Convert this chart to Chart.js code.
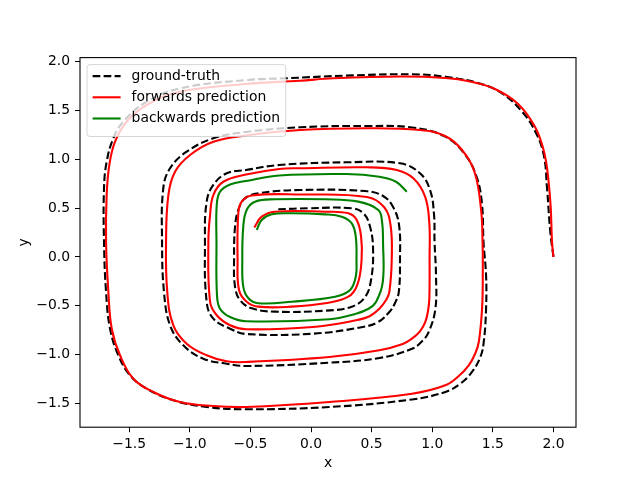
<!DOCTYPE html>
<html>
<head>
<meta charset="utf-8">
<script src="https://cdn.jsdelivr.net/npm/chart.js@4.4.0/dist/chart.umd.min.js"></script>
<style>
  html, body { margin: 0; padding: 0; background: #fff; }
  canvas { display: block; }
</style>
</head>
<body>
<canvas id="spiral" width="640" height="480"></canvas>
<script>
// traced trajectories, [x, y] in data units
const groundTruth = [
  [2.000, 0.000], [1.974, 0.255], [1.947, 0.703], [1.920, 1.044], [1.851, 1.283],
  [1.741, 1.488], [1.576, 1.676], [1.384, 1.779], [1.108, 1.846], [0.833, 1.871],
  [0.289, 1.857], [-0.206, 1.830], [-0.536, 1.812], [-1.081, 1.727], [-1.356, 1.590],
  [-1.549, 1.385], [-1.631, 1.215], [-1.686, 0.975], [-1.708, 0.703], [-1.708, 0.156],
  [-1.691, -0.360], [-1.658, -0.736], [-1.590, -1.008], [-1.493, -1.213], [-1.356, -1.350],
  [-1.136, -1.469], [-0.861, -1.538], [-0.536, -1.561], [0.151, -1.538], [0.833, -1.461],
  [1.108, -1.384], [1.232, -1.299], [1.328, -1.179], [1.397, -1.026], [1.425, -0.872],
  [1.444, -0.531], [1.444, -0.189],
  [1.423, 0.153], [1.411, 0.532], [1.370, 0.805], [1.273, 1.044], [1.108, 1.232],
  [0.833, 1.326], [0.460, 1.341], [-0.091, 1.328], [-0.536, 1.280], [-0.806, 1.215],
  [-1.026, 1.078], [-1.163, 0.908], [-1.219, 0.703], [-1.229, 0.156], [-1.213, -0.360],
  [-1.163, -0.701], [-1.054, -0.906], [-0.889, -1.043], [-0.696, -1.094], [-0.536, -1.118],
  [0.151, -1.084], [0.564, -1.036], [0.833, -0.941], [0.916, -0.864], [0.971, -0.769],
  [1.026, -0.531],
  [1.031, -0.189], [1.019, 0.153], [1.015, 0.429], [0.982, 0.685], [0.899, 0.857],
  [0.734, 0.959], [0.289, 0.969], [-0.262, 0.942], [-0.536, 0.890], [-0.696, 0.857],
  [-0.806, 0.737], [-0.861, 0.566], [-0.875, 0.156], [-0.861, -0.462], [-0.806, -0.633],
  [-0.668, -0.736], [-0.536, -0.790], [0.014, -0.787], [0.427, -0.718], [0.553, -0.667],
  [0.646, -0.565], [0.693, -0.472],
  [0.724, -0.360], [0.734, -0.018], [0.726, 0.327], [0.677, 0.511], [0.594, 0.624],
  [0.446, 0.675], [-0.091, 0.685], [-0.435, 0.652], [-0.545, 0.600], [-0.600, 0.481],
  [-0.627, 0.309], [-0.635, -0.032], [-0.627, -0.305], [-0.586, -0.442], [-0.489, -0.527],
  [-0.297, -0.561], [0.116, -0.551], [0.336, -0.510], [0.446, -0.411], [0.495, -0.237],
  [0.512, 0.071], [0.487, 0.309], [0.432, 0.447], [0.336, 0.498], [-0.022, 0.498],
  [-0.270, 0.488]
];

const forwardPred = [
  [2.000, 0.000], [1.988, 0.156], [1.976, 0.532], [1.947, 0.911], [1.914, 1.116],
  [1.844, 1.341], [1.708, 1.567], [1.518, 1.720], [1.312, 1.797], [1.108, 1.833],
  [0.734, 1.848], [0.184, 1.830], [-0.091, 1.805], [-0.536, 1.772], [-1.081, 1.693],
  [-1.356, 1.556], [-1.521, 1.385], [-1.617, 1.180], [-1.664, 0.942], [-1.686, 0.634],
  [-1.691, 0.156], [-1.672, -0.360], [-1.644, -0.736], [-1.576, -1.008], [-1.466, -1.248],
  [-1.301, -1.384], [-1.081, -1.487], [-0.806, -1.528], [-0.536, -1.538], [0.151, -1.487],
  [0.833, -1.402], [1.108, -1.316], [1.221, -1.218], [1.301, -1.111], [1.353, -0.995],
  [1.384, -0.872], [1.411, -0.531],
  [1.417, -0.189], [1.415, 0.153], [1.403, 0.481], [1.349, 0.870], [1.246, 1.095],
  [1.106, 1.239], [0.899, 1.300], [0.460, 1.318], [-0.091, 1.300], [-0.536, 1.244],
  [-0.806, 1.180], [-0.998, 1.044], [-1.122, 0.873], [-1.177, 0.634], [-1.196, 0.156],
  [-1.186, -0.360], [-1.136, -0.701], [-1.026, -0.889], [-0.861, -1.008], [-0.696, -1.070],
  [-0.536, -1.077], [0.151, -1.026], [0.564, -0.957], [0.757, -0.892], [0.833, -0.838],
  [0.899, -0.764], [0.943, -0.667], [0.965, -0.554], [0.976, -0.428], [0.978, -0.018],
  [0.976, 0.344], [0.941, 0.617],
  [0.844, 0.805], [0.707, 0.890], [0.460, 0.918], [-0.091, 0.908], [-0.262, 0.901],
  [-0.536, 0.844], [-0.724, 0.770], [-0.806, 0.634], [-0.833, 0.429], [-0.847, 0.156],
  [-0.833, -0.462], [-0.778, -0.598], [-0.668, -0.701], [-0.536, -0.742], [0.014, -0.718],
  [0.371, -0.650], [0.487, -0.606], [0.564, -0.531], [0.619, -0.442], [0.646, -0.360],
  [0.666, -0.018], [0.656, 0.327],
  [0.602, 0.511], [0.462, 0.614], [-0.091, 0.639], [-0.489, 0.629], [-0.572, 0.566],
  [-0.600, 0.447], [-0.606, -0.032], [-0.594, -0.339], [-0.531, -0.459], [-0.435, -0.510],
  [-0.159, -0.510], [0.116, -0.475], [0.308, -0.408], [0.384, -0.278], [0.417, -0.032],
  [0.413, 0.207], [0.377, 0.378], [0.308, 0.447], [0.116, 0.463], [-0.297, 0.463],
  [-0.407, 0.412], [-0.468, 0.301]
];

const backwardPred = [
  [0.790, 0.668], [0.701, 0.770], [0.564, 0.822], [0.289, 0.849], [-0.262, 0.834],
  [-0.536, 0.778], [-0.668, 0.742], [-0.751, 0.668], [-0.778, 0.532], [-0.780, 0.156],
  [-0.776, -0.390], [-0.751, -0.531], [-0.668, -0.616], [-0.536, -0.660], [0.151, -0.639],
  [0.371, -0.582], [0.470, -0.534], [0.536, -0.462], [0.592, -0.257], [0.594, 0.153],
  [0.586, 0.358],
  [0.555, 0.481], [0.390, 0.566], [0.116, 0.590], [-0.297, 0.590], [-0.462, 0.566],
  [-0.531, 0.481], [-0.559, 0.309], [-0.567, -0.032], [-0.559, -0.305], [-0.517, -0.424],
  [-0.435, -0.475], [-0.159, -0.459], [0.198, -0.408], [0.322, -0.339], [0.369, -0.203],
  [0.375, -0.032], [0.369, 0.207], [0.336, 0.344], [0.253, 0.412], [0.116, 0.436],
  [-0.159, 0.447], [-0.324, 0.436], [-0.407, 0.378], [-0.448, 0.276]
];

const seriesNames = ['ground-truth', 'forwards prediction', 'backwards prediction'];
const xTicks = [-1.5, -1.0, -0.5, 0.0, 0.5, 1.0, 1.5, 2.0];
const yTicks = [-1.5, -1.0, -0.5, 0.0, 0.5, 1.0, 1.5, 2.0];

const toPoints = (pairs) => pairs.map(([x, y]) => ({ x, y }));
const fmt = (v) => v.toFixed(1).replace('-', '\u2212');

Chart.defaults.font.family = 'DejaVu Sans';
Chart.defaults.font.size = 13.9;
Chart.defaults.color = '#000';

// axes box on all four sides
const framePlugin = {
  id: 'frame',
  afterDatasetsDraw(chart) {
    const { ctx, chartArea: a } = chart;
    ctx.save();
    ctx.strokeStyle = '#000';
    ctx.lineWidth = 1.1;
    ctx.strokeRect(a.left, a.top, a.right - a.left, a.bottom - a.top);
    ctx.restore();
  },
};

// matplotlib style legend in the upper left corner
const legendPlugin = {
  id: 'mplLegend',
  afterDraw(chart) {
    const { ctx, chartArea: a } = chart;
    const sets = chart.data.datasets;
    ctx.save();
    ctx.font = '13.9px "DejaVu Sans"';
    const textW = Math.max(...sets.map((d) => ctx.measureText(d.label).width));
    const x0 = a.left + 7, y0 = a.top + 7;
    const pad = 5.6, rowH = 21.2, handle = 28;
    const w = pad + handle + 11 + textW + pad;
    const h = pad * 2 + rowH * sets.length - 6.9 + 4;
    ctx.beginPath();
    ctx.roundRect(x0, y0, w, h, 3);
    ctx.fillStyle = 'rgba(255,255,255,0.8)';
    ctx.fill();
    ctx.strokeStyle = 'rgba(204,204,204,0.8)';
    ctx.lineWidth = 1;
    ctx.stroke();
    sets.forEach((d, i) => {
      const cy = y0 + 11.5 + i * rowH;
      ctx.beginPath();
      ctx.setLineDash(d.borderDash || []);
      ctx.strokeStyle = d.borderColor;
      ctx.lineWidth = d.borderWidth;
      ctx.moveTo(x0 + pad, cy);
      ctx.lineTo(x0 + pad + handle, cy);
      ctx.stroke();
      ctx.setLineDash([]);
      ctx.fillStyle = '#000';
      ctx.textBaseline = 'middle';
      ctx.fillText(d.label, x0 + pad + handle + 11, cy);
    });
    ctx.restore();
  },
};

const lineStyle = {
  showLine: true,
  pointRadius: 0,
  pointHoverRadius: 0,
  borderWidth: 2.1,
  tension: 0.4,
  fill: false,
};

new Chart(document.getElementById('spiral'), {
  type: 'scatter',
  data: {
    datasets: [
      { ...lineStyle, label: seriesNames[0], data: toPoints(groundTruth), borderColor: '#000000', borderDash: [7.7, 3.3], order: 3 },
      { ...lineStyle, label: seriesNames[1], data: toPoints(forwardPred), borderColor: '#ff0000', order: 2 },
      { ...lineStyle, label: seriesNames[2], data: toPoints(backwardPred), borderColor: '#008000', order: 1 },
    ],
  },
  options: {
    responsive: false,
    animation: false,
    events: [],
    layout: {
      padding: { top: 57.6, right: 64, bottom: 0, left: 0 },
    },
    plugins: {
      legend: { display: false },
      tooltip: { enabled: false },
    },
    scales: {
      x: {
        type: 'linear',
        min: -1.906,
        max: 2.186,
        afterBuildTicks: (scale) => { scale.ticks = xTicks.map((v) => ({ value: v })); },
        afterFit: (scale) => { scale.height = 52.8; },
        ticks: { callback: fmt, padding: 4, maxRotation: 0, autoSkip: false },
        grid: { drawOnChartArea: false, tickLength: 5, tickColor: '#000', tickWidth: 1 },
        border: { display: false },
        title: { display: true, text: 'x', padding: { top: 0, bottom: 8 } },
      },
      y: {
        type: 'linear',
        min: -1.745,
        max: 2.042,
        afterBuildTicks: (scale) => { scale.ticks = yTicks.map((v) => ({ value: v })); },
        afterFit: (scale) => { scale.width = 80; },
        ticks: { callback: fmt, padding: 5, autoSkip: false },
        grid: { drawOnChartArea: false, tickLength: 5, tickColor: '#000', tickWidth: 1 },
        border: { display: false },
        title: { display: true, text: 'y', padding: { top: 16, bottom: 0 } },
      },
    },
  },
  plugins: [framePlugin, legendPlugin],
});
</script>
</body>
</html>
